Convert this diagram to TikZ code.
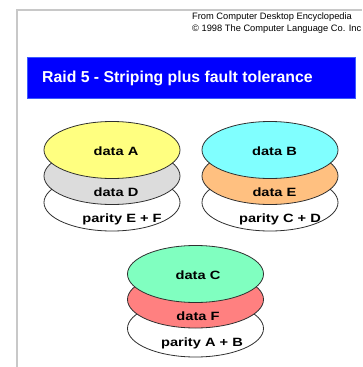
\documentclass[tikz,border=0pt]{standalone}
\usepackage{fontspec}
\setmainfont{Liberation Sans}
\newfontfamily\lblfont{Liberation Sans}[FakeStretch=1.22]
\usetikzlibrary{shapes.geometric}
\definecolor{frame}{HTML}{C8C8C8}
\definecolor{bandblue}{HTML}{0000FF}
\definecolor{cYellow}{HTML}{FFFF80}
\definecolor{cGrey}{HTML}{DCDCDC}
\definecolor{cCyan}{HTML}{80FFFF}
\definecolor{cOrange}{HTML}{FFC080}
\definecolor{cGreen}{HTML}{80FFC0}
\definecolor{cRed}{HTML}{FF8080}
\definecolor{edge}{HTML}{303030}
\tikzset{
  disk/.style={ellipse, draw=edge, line width=0.8pt, inner sep=0pt,
    minimum width=136pt, minimum height=57pt},
  lbl/.style={anchor=base, inner sep=0pt, font=\lblfont\fontsize{12}{14}\selectfont\bfseries},
  credit/.style={anchor=base west, inner sep=0pt, font=\fontsize{9.3}{11}\selectfont},
}
\begin{document}
\begin{tikzpicture}[x=1pt,y=-1pt]
\useasboundingbox (0,0) rectangle (362,367);
\fill[white] (0,0) rectangle (362,367);
% frame
\draw[frame, line width=2pt] (17,367) -- (17,10) -- (362,10);
% credits
\node[credit] (c1) at (192,19) {From Computer Desktop Encyclopedia};
\node[credit] (c2) at (192,31) {\symbol{"00A9} 1998 The Computer Language Co. Inc};
% title band
\node[fill=bandblue, draw={rgb,255:red,60;green,90;blue,255}, line width=0.6pt,
  minimum width=328pt, minimum height=41pt, inner sep=0pt, anchor=north west] (band) at (27,57) {};
\node[anchor=base west, inner sep=0pt, text=white, font=\fontsize{15.8}{18}\selectfont\bfseries]
  (title) at (42,82) {Raid 5 - Striping plus fault tolerance};
% disk 1
\node[disk, fill=white] (d1c) at (112,202.5) {};
\node[disk, fill=cGrey] (d1b) at (112,176) {};
\node[disk, fill=cYellow] (d1a) at (112,150) {};
\node[lbl] (t1a) at (116,155.5) {data A};
\node[lbl] (t1b) at (116,196) {data D};
\node[lbl] (t1c) at (122,222) {parity E + F};
% disk 2
\node[disk, fill=white] (d2c) at (270,202.5) {};
\node[disk, fill=cOrange] (d2b) at (270,176) {};
\node[disk, fill=cCyan] (d2a) at (270,150) {};
\node[lbl] (t2a) at (274.5,155.5) {data B};
\node[lbl] (t2b) at (274.5,196) {data E};
\node[lbl] (t2c) at (280,222) {parity C + D};
% disk 3
\node[disk, fill=white] (d3c) at (195.5,328.5) {};
\node[disk, fill=cRed] (d3b) at (195.5,299.5) {};
\node[disk, fill=cGreen] (d3a) at (195.5,274) {};
\node[lbl] (t3a) at (198,279) {data C};
\node[lbl] (t3b) at (198,320) {data F};
\node[lbl] (t3c) at (202,346.5) {parity A + B};
\end{tikzpicture}
\end{document}
